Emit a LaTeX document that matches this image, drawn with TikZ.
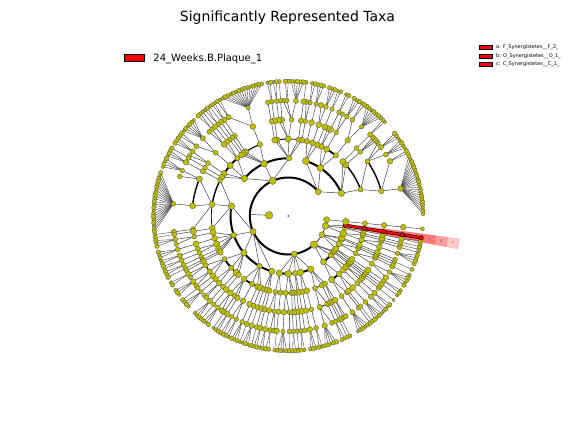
\documentclass[tikz,border=0pt]{standalone}
\usepackage{fontspec}
\setmainfont{DejaVu Sans}
\definecolor{nodey}{RGB}{191,191,0}
\tikzset{
  edge/.style={draw=black!80,line width=0.45pt},
  fanedge/.style={draw=black!80,line width=0.35pt},
  ynode/.style={circle,inner sep=0pt,draw=black!70,line width=0.3pt,fill=nodey},
  rnode/.style={circle,inner sep=0pt,draw=black,line width=0.4pt,fill=red,minimum size=4.6pt},
  redout/.style={draw=black,line width=3.3pt},
  redin/.style={draw=red,line width=2.1pt},
  wedgefill/.style={fill=red,opacity=0.22},
  lettr/.style={font=\fontsize{4}{4}\selectfont,text=black!60,inner sep=0pt},
  legbox/.style={draw=black,line width=0.5pt,fill=red,inner sep=0pt},
  smalltxt/.style={font=\fontsize{5}{6}\selectfont,anchor=west,inner sep=0pt},
}
\newcount\ndid
\newcount\lfid
\newcount\tlev
\newcount\kidx
\tlev=-1
\def\angstart{1}
\def\angstep{1.27158}
\def\rstep{19.25}
\def\kids{}\def\nlv{0}\def\alo{0}\def\ahi{0}
\def\nodelist{}\def\edgelist{}\def\arclist{}\def\stubinfo{}
\def\Nd{\Ndx{0}}
\def\Nr{\Ndx{1}}
\def\Lf{\Nd{}}
\def\Lr{\Nr{}}
\def\Gap#1{\global\advance\lfid by #1\relax}
\def\Rep#1#2{\ifnum#1>0 \expandafter\Repa\else\expandafter\Repb\fi{#1}{#2}}
\def\Repa#1#2{#2\expandafter\Rep\expandafter{\the\numexpr#1-1\relax}{#2}}
\def\Repb#1#2{}
\def\Fan#1{\Nd{\Rep{#1}{\Lf}}}
% chain of #1 nodes ending in a leaf
\def\ChnI#1{\ifnum#1=1 \expandafter\Chone\else\expandafter\Chmore\fi{#1}}
\def\Chone#1{\Nd{}}
\def\Chmore#1{\Nd{\ChnI{\the\numexpr#1-1\relax}}}
% chain of #1 nodes, the last one with #2 leaves
\def\Gf#1#2{\ifnum#1=1 \expandafter\Gfone\else\expandafter\Gfmore\fi{#1}{#2}}
\def\Gfone#1#2{\Fan{#2}}
\def\Gfmore#1#2{\Nd{\Gf{\the\numexpr#1-1\relax}{#2}}}
\def\ndret{%
  \ifx\kids\empty \edef\alo{\retlo}\fi
  \edef\ahi{\rethi}%
  \edef\kids{\unexpanded\expandafter{\kids}\noexpand\kdo{\retid}{\retang}{\retnl}{\retred}}%
  \edef\nlv{\the\numexpr\nlv+\retnl\relax}%
}
\def\prockids#1{%
  \def\prevkid{}\kidx=0\relax
  \pgfmathsetmacro\crad{(\the\tlev+1)*\rstep}%
  \edef\wmx{\ifcase\numexpr\tlev+1\relax 0\or 0\or 2.0\or 2.0\or 1.8\or 1.4\or 0\or 0\else 0\fi}%
  \def\kdo##1##2##3##4{%
    \advance\kidx by 1\relax
    \ifnum\tlev>1
      \xdef\edgelist{\unexpanded\expandafter{\edgelist}\noexpand\drawedge{\nme}{##1}{\ifnum#1##4=11 1\else 0\fi}{\the\tlev}}%
    \fi
    \ifx\prevkid\empty\else
      \ifnum\tlev=1
        \ifnum\kidx>5 \def\aw{0.6}\else\def\aw{2.0}\fi
        \xdef\arclist{\unexpanded\expandafter{\arclist}\noexpand\drawarc{\prevkid}{\prevang}{##2}{\crad}{\aw}}%
      \else
        \pgfmathsetmacro\aw{\wmx*min(1,(min(\prevnl,##3)+1)/5)}%
        \pgfmathparse{\aw>0.7?1:0}%
        \ifnum\pgfmathresult=1
          \xdef\arclist{\unexpanded\expandafter{\arclist}\noexpand\drawarc{\prevkid}{\prevang}{##2}{\crad}{\aw}}%
        \fi
      \fi
    \fi
    \def\prevkid{##1}\def\prevang{##2}\def\prevnl{##3}%
  }%
  \kids
  \ifnum\tlev=1 \xdef\stubinfo{{\nme}{\nang}}\fi
}
\def\Ndx#1#2{%
  \begingroup
    \global\advance\ndid by 1\relax
    \edef\nme{\the\ndid}%
    \advance\tlev by 1\relax
    \def\kids{}\def\nlv{0}%
    #2%
    \ifx\kids\empty
      \pgfmathsetmacro\alo{\angstart+\the\lfid*\angstep}%
      \let\ahi\alo
      \def\nlv{1}%
      \global\advance\lfid by 1\relax
    \fi
    \pgfmathsetmacro\nang{(\alo+\ahi)/2}%
    \pgfmathsetmacro\nrad{\the\tlev*\rstep}%
    \xdef\nodelist{\unexpanded\expandafter{\nodelist}\noexpand\drawnode{\nme}{\nang}{\nrad}{\the\tlev}{#1}}%
    \ifnum#1=1
      \ifcase\tlev\or\or\or \xdef\redC{\nang}\or \xdef\redO{\nang}\or \xdef\redF{\nang}\fi
    \fi
    \ifnum\tlev>0 \prockids{#1}\fi
    \xdef\retid{\nme}\xdef\retang{\nang}\xdef\retlo{\alo}\xdef\rethi{\ahi}\xdef\retnl{\nlv}\xdef\retred{#1}%
  \endgroup
  \ndret}
\begin{document}
\begin{tikzpicture}[x=1pt,y=1pt]
\useasboundingbox (-288.3,-216) rectangle (287.7,216);
% ---------- tree description ----------
\Nd{%
 \Nd{%
  % P1
  \Nd{%
   \Nd{%
    \Nd{\Nd{\Fan{21}\Fan{2}}\Nd{\Fan{4}\Fan{3}\Lf}}%
    \Gf{2}{3}%
    \Gf{3}{2}%
   }%
   \Nd{%
    \Nd{\Nd{\Fan{7}\Fan{2}}}%
    \Nd{\Nd{\Fan{3}\Lf}}%
    \Nd{\Gf{2}{2}\Lf}%
   }%
   \Nd{\Gf{3}{2}\Nd{\Nd{\Fan{3}\Lf}}\Nd{\Gf{2}{3}}}%
  }%
  % P2
  \Nd{%
   \Nd{%
    \Nd{\Nd{\Fan{2}\Lf}}%
    \ChnI{4}%
    \Nd{\Nd{\Fan{5}\Fan{2}\Lf}\Gf{2}{1}\Nd{\Fan{2}}}%
    \Gf{3}{2}%
    \ChnI{3}%
   }%
   \Nd{%
    \Nd{\Nd{\Fan{15}\Fan{2}}}%
    \Gf{3}{2}%
    \ChnI{4}%
    \Gf{3}{2}%
   }%
   \Nd{%
    \Nd{\Gf{2}{1}\Nd{\Fan{2}\Lf}}%
    \Nd{\Nd{\Fan{6}\Fan{2}}}%
    \Nd{\Nd{\Fan{3}\Lf}}%
    \ChnI{4}%
   }%
  }%
  % P3
  \Nd{%
   \Nd{%
    \Gf{3}{3}%
    \Nd{\Nd{\Fan{4}\Lf}\Nd{\Fan{21}}\Gf{2}{1}}%
    \ChnI{4}%
   }%
   \Nd{%
    \Nd{\Nd{\Fan{3}\Lf}}%
    \Gf{3}{3}%
    \Nd{\Gf{2}{2}\Nd{\Fan{2}}}%
    \Gf{3}{2}%
    \ChnI{4}\ChnI{3}%
   }%
   \Nd{%
    \Nd{\Nd{\Fan{2}\Lf}\Nd{\Fan{3}\Lf}\Gf{2}{1}}%
    \Nd{\Nd{\Fan{3}}\Nd{\Lf\Lf}}%
    \Gf{3}{3}%
    \ChnI{4}%
   }%
   \Nd{%
    \Nd{\Nd{\Fan{3}\Lf}\Gf{2}{1}\Nd{\Fan{2}}}%
    \Nd{\Nd{\Fan{2}\Fan{2}}}%
    \Gf{3}{3}%
    \ChnI{4}%
   }%
   \Nd{%
    \Nd{\Nd{\Fan{3}}}%
    \ChnI{4}%
    \Gf{3}{2}%
   }%
  }%
  % P4
  \Nd{%
   \Nd{\Nd{\Nd{\Fan{2}}\Nd{\Fan{2}\Lf}}\ChnI{4}}%
   \Nd{\Nd{\Nd{\Fan{4}}\Gf{2}{1}}\Gf{3}{2}\ChnI{4}}%
   \Nd{\Gf{3}{2}\ChnI{3}}%
   \Nd{\Nd{\Nd{\Fan{3}}}\Gf{3}{2}}%
   \Nd{\Nd{\Nd{\Fan{5}\Lf}\Nd{\Fan{2}}}\ChnI{4}\Nd{\Gf{2}{1}\Nd{\Lf\Lf}}}%
  }%
  % P5
  \Nd{%
   \Nd{\Nd{\Nd{\Fan{5}}\Gf{2}{1}}\Nd{\Gf{2}{1}\Nd{\Fan{4}}}}%
   \Nd{\Gf{3}{2}\Nd{\Nd{\Fan{2}}\Lf}}%
   \ChnI{5}\ChnI{4}%
  }%
  % P6
  \Nd{%
   \Nd{\ChnI{4}\Gf{3}{2}}%
   \Nd{\Nd{\Nd{\Lf\Fan{4}}\Gf{2}{1}}\ChnI{3}}%
   \ChnI{5}\ChnI{4}%
  }%
  % P7 (with the highlighted clade)
  \Nd{%
   \Nd{\Nd{\Nd{\Fan{4}}\Gf{2}{1}}\ChnI{4}}%
   \Nd{\ChnI{4}\Gf{3}{2}}%
   \Nr{\Nr{\Nr{\Nr{\Lr}}}}%
  }%
  \Gap{2}%
  % P8
  \ChnI{6}%
 }%
}%
% ---------- drawing ----------
\def\drawnode#1#2#3#4#5{\coordinate (c#1) at (#2:#3pt);}%
\nodelist
% highlight wedges
\def\drawwedge#1#2#3{%
  \fill[wedgefill] ({#1-1.8}:#2pt) arc[start angle={#1-1.8},end angle={#1+1.8},radius=#2pt]
     -- ({#1+1.8}:#3pt) arc[start angle={#1+1.8},end angle={#1-1.8},radius=#3pt] -- cycle;}%
\drawwedge{\redC}{57.75}{173}%
\drawwedge{\redO}{77}{161}%
\drawwedge{\redF}{96.25}{149}%
% arcs
\def\drawarc#1#2#3#4#5{\draw[line width=#5pt] (c#1) arc[start angle=#2,end angle=#3,radius=#4pt];}%
\arclist
% edges
\def\drawedge#1#2#3#4{%
  \ifnum#3=1
    \draw[redout] (c#1) -- (c#2);\draw[redin] (c#1) -- (c#2);%
  \else
    \ifnum#4=6 \draw[fanedge] (c#1) -- (c#2);\else \draw[edge] (c#1) -- (c#2);\fi
  \fi}%
\edgelist
\def\drawstub#1#2{\coordinate (stubend) at (#2:38.5pt);\draw[edge] (c#1) -- (stubend);}%
\expandafter\drawstub\stubinfo
% nodes
\def\drawnode#1#2#3#4#5{%
  \ifnum#5=1
    \node[rnode] (v#1) at (c#1) {};%
  \else
    \edef\nb{\ifcase#4 1.6\or 6.8\or 6.6\or 6.2\or 5.8\or 5.4\or 5.0\or 4.2\else 4\fi}%
    \pgfmathsetmacro\ns{\nb*(0.86+0.28*mod(#1*7,17)/16)}%
    \node[ynode,minimum size=\ns pt] (v#1) at (c#1) {};%
  \fi}%
\nodelist
% clade letters
\node[lettr,rotate=\redF] (lbla) at (\redF:143pt) {a};
\node[lettr,rotate=\redO] (lblb) at (\redO:155pt) {b};
\node[lettr,rotate=\redC] (lblc) at (\redC:167pt) {c};
% title
\node[anchor=base,inner sep=0pt,font=\fontsize{14}{17}\selectfont] (title) at (-0.8,194.3) {Significantly Represented Taxa};
% main legend
\node[legbox,minimum width=20pt,minimum height=6.7pt] (legbox) at (-154,158.6) {};
\node[anchor=base west,inner sep=0pt,font=\fontsize{10}{12}\selectfont] (legtext) at (-135,155) {24\_Weeks.B.Plaque\_1};
% clade legend
\node[legbox,line width=0.4pt,minimum width=12.7pt,minimum height=4pt] (rk1) at (197.3,169) {};
\node[legbox,line width=0.4pt,minimum width=12.7pt,minimum height=4pt] (rk2) at (197.3,160.3) {};
\node[legbox,line width=0.4pt,minimum width=12.7pt,minimum height=4pt] (rk3) at (197.3,151.7) {};
\node[smalltxt] (rt1) at (207.7,169) {a: F\_Synergistetes\_\_F\_2\_};
\node[smalltxt] (rt2) at (207.7,160.3) {b: O\_Synergistetes\_\_O\_1\_};
\node[smalltxt] (rt3) at (207.7,151.7) {c: C\_Synergistetes\_\_C\_1\_};
\end{tikzpicture}
\end{document}
